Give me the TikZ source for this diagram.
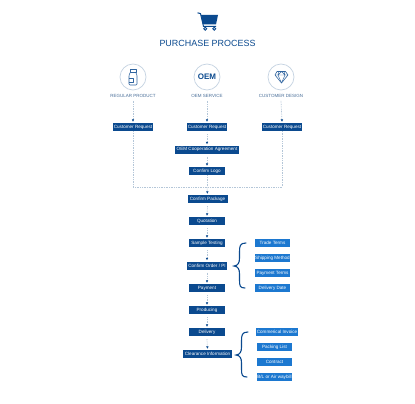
\documentclass[tikz,border=0pt]{standalone}
\usepackage{fontspec}
\setmainfont{Liberation Sans}
\usetikzlibrary{arrows.meta}
\definecolor{navy}{HTML}{0B4A8F}
\definecolor{skyb}{HTML}{1C78D0}
\definecolor{dotc}{HTML}{B4C6D8}
\definecolor{ringc}{HTML}{C5D3E2}
\definecolor{capc}{HTML}{4A6F99}
\tikzset{
  x=1pt,y=-1pt,
  mainbox/.style={fill=navy,text=white,font=\fontsize{4.6}{5}\selectfont,inner sep=0pt,minimum height=8pt,anchor=center},
  sidebox/.style={mainbox,fill=skyb},
  ringnode/.style={circle,draw=ringc,line width=0.7pt,minimum size=26pt,inner sep=0pt},
  captext/.style={text=capc,font=\fontsize{4.5}{5}\selectfont,inner sep=0pt},
  flowline/.style={draw=dotc,line width=0.7pt,dash pattern=on 0.8pt off 0.9pt},
  headtip/.style={-{Latex[length=2.4pt,width=2.6pt,color=navy]}},
  bracec/.style={draw=navy,line width=1.1pt,line cap=round},
  iconline/.style={draw=navy!85,line width=0.6pt,line join=round}
}
\begin{document}
\begin{tikzpicture}
\useasboundingbox[fill=white] (0,0) rectangle (415,404);
% title + cart
\node[text=navy,font=\fontsize{8.95}{11}\selectfont,inner sep=0pt] (title) at (207.5,43.5) {PURCHASE PROCESS};
\fill[navy] (201,15) -- (218,15) -- (216,24.5) -- (203,24.5) -- cycle;
\draw[navy,line width=1pt] (197.5,12.8) -- (200.5,13.6) -- (203.5,26.5) -- (216,26.5);
\draw[navy,line width=0.9pt] (205.2,28.8) circle (1.5);
\draw[navy,line width=0.9pt] (214.2,28.8) circle (1.5);
% rings
\node[ringnode] (r1) at (133,77) {};
\node[ringnode] (r2) at (207,77) {};
\node[ringnode] (r3) at (281,77) {};
\node[text=navy,font=\bfseries\fontsize{8}{9}\selectfont,inner sep=0pt] (oem) at (207,77) {OEM};
% bottle
\draw[iconline] (130,69.5) rectangle (136,72);
\draw[iconline,rounded corners=1pt] (130.5,72) -- (129,75) -- (129,85) -- (137,85) -- (137,75) -- (135.5,72);
\draw[iconline,line width=0.4pt] (129,78) -- (133,78) -- (133,82) -- (129,82);
% diamond
\draw[iconline] (277,71.5) -- (285.5,71.5) -- (288,75) -- (281.5,83) -- (275,75) -- cycle;
\draw[iconline,line width=0.45pt] (275,75) -- (288,75) (278.5,71.5) -- (278,75) -- (281.5,83) -- (285,75) -- (284,71.5) (278,75) -- (281.5,71.5) -- (285,75);
% captions
\node[captext] (c1) at (133,96) {REGULAR PRODUCT};
\node[captext] (c2) at (207,96) {OEM SERVICE};
\node[captext] (c3) at (281,96) {CUSTOMER DESIGN};
% main boxes
\node[mainbox,minimum width=40pt] (q1) at (133,127) {Customer Request};
\node[mainbox,minimum width=40pt] (q2) at (207,127) {Customer Request};
\node[mainbox,minimum width=40pt] (q3) at (282,127) {Customer Request};
\node[mainbox,minimum width=64pt] (agr) at (207,149.5) {OEM Cooperation Agreement};
\node[mainbox,minimum width=36pt] (logo) at (207,171) {Confirm Logo};
\node[mainbox,minimum width=40pt] (pack) at (207.5,199) {Confirm Package};
\node[mainbox,minimum width=36pt] (quot) at (207,221) {Quotation};
\node[mainbox,minimum width=36pt] (samp) at (207,243) {Sample Testing};
\node[mainbox,minimum width=40pt] (ord) at (207,265.5) {Confirm Order / PI};
\node[mainbox,minimum width=36pt] (pay) at (207,288) {Payment};
\node[mainbox,minimum width=36pt] (prod) at (207,310) {Producing};
\node[mainbox,minimum width=36pt] (deliv) at (207,332) {Delivery};
\node[mainbox,minimum width=49pt] (clear) at (207.5,354) {Clearance Information};
% side boxes
\node[sidebox,minimum width=35pt] (s1) at (272.5,243) {Trade Terms};
\node[sidebox,minimum width=35pt] (s2) at (272.5,258) {Shipping Method};
\node[sidebox,minimum width=35pt] (s3) at (272.5,273) {Payment Terms};
\node[sidebox,minimum width=35pt] (s4) at (272.5,288) {Delivery Date};
\node[sidebox,minimum width=42pt] (t1) at (277,332) {Commerical Invoice};
\node[sidebox,minimum width=35pt] (t2) at (274.5,347) {Packing List};
\node[sidebox,minimum width=35pt] (t3) at (274.5,362) {Contract};
\node[sidebox,minimum width=35pt] (t4) at (274.5,377) {B/L or Air waybill};
% join
\coordinate (jm) at (207,187);
\coordinate (jl) at (133,187);
\coordinate (jr) at (282,187);
% connectors
\foreach \a/\b in {c1/q1,c2/q2,c3/q3,q2/agr,agr/logo,pack/quot,quot/samp,samp/ord,ord/pay,pay/prod,prod/deliv,deliv/clear}
  \draw[flowline,headtip] (\a.south) ++(0,3) -- ([yshift=1pt]\b.north);
\draw[flowline] (q1.south) -- (jl) -- (jr) -- (q3.south);
\draw[flowline] (logo.south) -- (jm);
\draw[flowline,headtip] (jm) -- ([yshift=1pt]pack.north);
% braces
\draw[bracec] (246,243) .. controls (240,243) and (239.5,246) .. (239.5,252) -- (239.5,258) .. controls (239.5,263) and (238,265.5) .. (234,266) .. controls (238,266.5) and (239.5,269) .. (239.5,274) -- (239.5,280) .. controls (239.5,286) and (240,288) .. (245,288);
\draw[bracec] (248,332) .. controls (242,332) and (241.5,335) .. (241.5,341) -- (241.5,347) .. controls (241.5,352) and (240,354.5) .. (236,355) .. controls (240,355.5) and (241.5,358) .. (241.5,363) -- (241.5,369) .. controls (241.5,375) and (242,377) .. (247,377);
\end{tikzpicture}
\end{document}
